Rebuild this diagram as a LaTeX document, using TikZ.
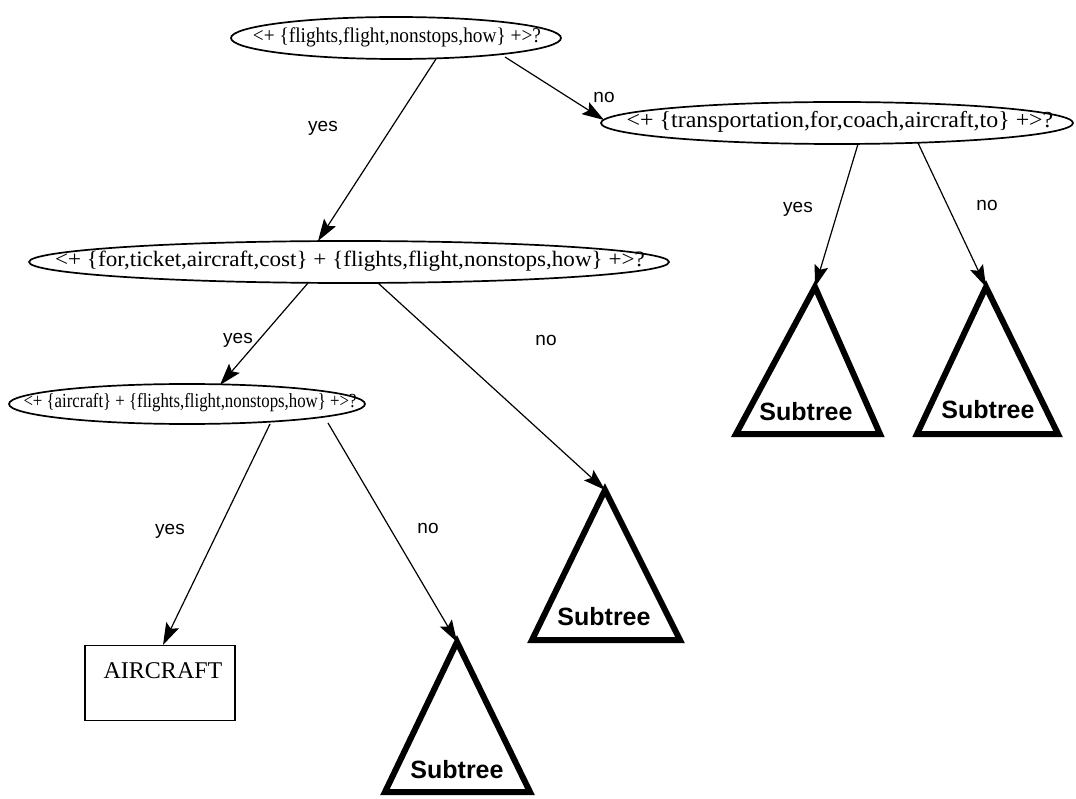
\documentclass[tikz,border=0pt]{standalone}
\usepackage{fontspec}
\setmainfont{Liberation Serif}
\newfontfamily\lsans{Liberation Sans}
\usetikzlibrary{shapes.geometric,arrows.meta}
\begin{document}
\begin{tikzpicture}[x=1pt,y=-1pt,
  question/.style={ellipse,draw,line width=1.7pt,inner sep=0pt},
  qtext/.style={inner sep=0pt},
  edge/.style={line width=1.2pt,-{Stealth[length=22pt,width=14pt,inset=4pt]}},
  elabel/.style={font=\lsans\fontsize{19}{21}\selectfont,inner sep=0pt},
  subtree/.style={line width=6pt,line join=miter,miter limit=20},
  stlabel/.style={font=\lsans\bfseries\fontsize{25}{27}\selectfont,inner sep=0pt},
  leaf/.style={draw,line width=1.6pt,inner sep=0pt}]
\useasboundingbox (0,0) rectangle (1076,799);

% decision questions
\node[question,minimum width=330pt,minimum height=42pt] (e1) at (396,38) {};
\node[qtext,font=\fontsize{21}{23}\selectfont,xscale=0.92] (e1t) at (397,37) {<+ \{flights,flight,nonstops,how\} +>?};
\node[question,minimum width=472pt,minimum height=42pt] (e2) at (837,123) {};
\node[qtext,font=\fontsize{23}{25}\selectfont,xscale=1.04] (e2t) at (840,122) {<+ \{transportation,for,coach,aircraft,to\} +>?};
\node[question,minimum width=640pt,minimum height=42pt] (e3) at (349,262) {};
\node[qtext,font=\fontsize{22}{24}\selectfont,xscale=1.05] (e3t) at (350,261) {<+ \{for,ticket,aircraft,cost\} + \{flights,flight,nonstops,how\} +>?};
\node[question,minimum width=356pt,minimum height=40pt] (e4) at (187,404) {};
\node[qtext,font=\fontsize{20}{22}\selectfont,xscale=0.84] (e4t) at (190,403) {<+ \{aircraft\} + \{flights,flight,nonstops,how\} +>?};

% leaf
\node[leaf,minimum width=150pt,minimum height=75pt] (air) at (160,683) {};
\node[qtext,font=\fontsize{24}{26}\selectfont] (airt) at (163,671) {AIRCRAFT};

% subtrees
\coordinate (t1) at (815,287);
\draw[subtree] (t1) -- (880,434) -- (736,434) -- cycle;
\node[stlabel] (t1l) at (806,412) {Subtree};
\coordinate (t2) at (986,287);
\draw[subtree] (t2) -- (1058,434) -- (917,434) -- cycle;
\node[stlabel] (t2l) at (988,410) {Subtree};
\coordinate (t3) at (605,490);
\draw[subtree] (t3) -- (680,640) -- (532,640) -- cycle;
\node[stlabel] (t3l) at (604,617) {Subtree};
\coordinate (t4) at (457,642);
\draw[subtree] (t4) -- (530,792) -- (385,792) -- cycle;
\node[stlabel] (t4l) at (457,770) {Subtree};

% branches
\coordinate (e1a) at (436,59);
\coordinate (e1b) at (505,57);
\coordinate (e3top) at (318,241);
\coordinate (e2left) at (604,120);
\draw[edge] (e1a) -- (e3top);
\draw[edge] (e1b) -- (e2left);
\coordinate (e2a) at (858,144);
\coordinate (e2b) at (918,143);
\draw[edge] (e2a) -- (t1);
\draw[edge] (e2b) -- (t2);
\coordinate (e3a) at (308,283);
\coordinate (e3b) at (378,283);
\coordinate (e4top) at (220,385);
\draw[edge] (e3a) -- (e4top);
\draw[edge] (e3b) -- (t3);
\coordinate (e4a) at (270,424);
\coordinate (e4b) at (328,423);
\coordinate (airtop) at (163,645);
\draw[edge] (e4a) -- (airtop);
\draw[edge] (e4b) -- (t4);

% branch labels
\node[elabel] (l1) at (323,128) {yes};
\node[elabel] (l2) at (604,97) {no};
\node[elabel] (l3) at (798,209) {yes};
\node[elabel] (l4) at (987,205) {no};
\node[elabel] (l5) at (238,340) {yes};
\node[elabel] (l6) at (546,340) {no};
\node[elabel] (l7) at (170,531) {yes};
\node[elabel] (l8) at (428,528) {no};
\end{tikzpicture}
\end{document}
